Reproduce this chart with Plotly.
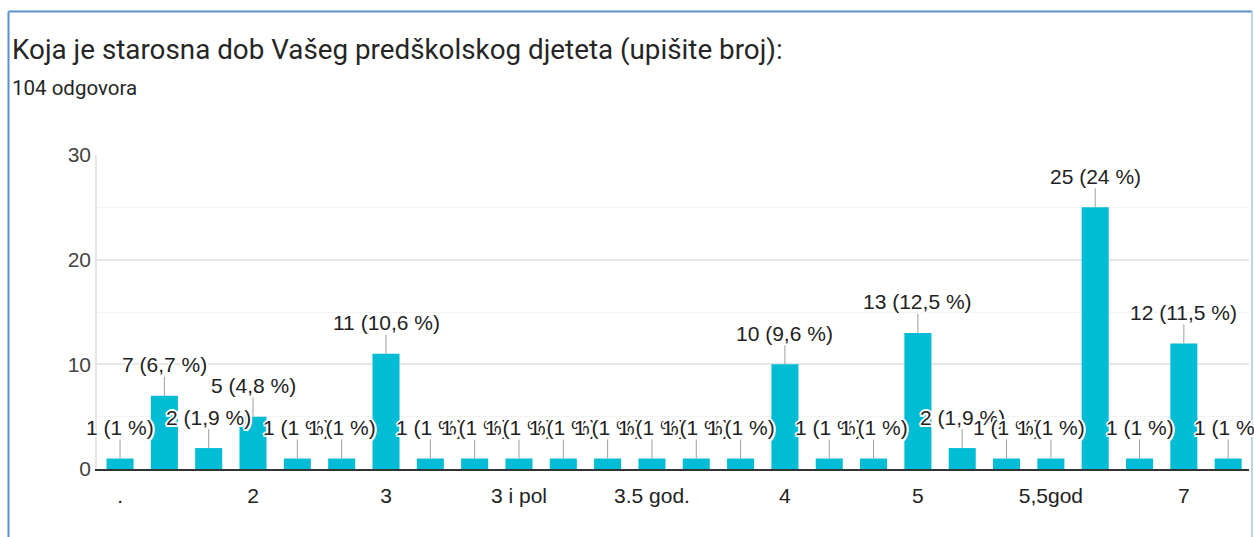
import plotly.graph_objects as go

# Responses to the question, one entry per distinct written answer
categories = [
    ".", "1", "1,5", "2", "2,5", "2.5", "3", "3 godine", "3 i 10 mjeseci",
    "3 i pol", "3,5", "3.5", "3.5 god.", "3.5 godina", "3g", "4", "4 godine",
    "4,5", "5", "5 godina", "5,5", "5,5god", "6", "6,5", "7", "7 godina",
]
counts = [1, 7, 2, 5, 1, 1, 11, 1, 1, 1, 1, 1, 1, 1, 1, 10, 1, 1, 13, 2, 1, 1, 25, 1, 12, 1]
y_ticks = [0, 10, 20, 30]

title_text = "Koja je starosna dob Vašeg predškolskog djeteta (upišite broj):"
subtitle_text = "104 odgovora"

total = sum(counts)


def value_label(n):
    pct = round(n / total * 100, 1)
    txt = f"{pct:.1f}".replace(".", ",")
    if txt.endswith(",0"):
        txt = txt[:-2]
    return f"{n} ({txt} %)"


W, H = 1254, 537
L, R, T, B = 97, 5, 155, 68
PW, PH = W - L - R, H - T - B


def px_x(x):
    return (x - L) / PW


def px_y(y):
    return (H - B - y) / PH


BAR = "#00BCD4"
halo = ("white 2px 0px 0px, white -2px 0px 0px, white 0px 2px 0px, white 0px -2px 0px, "
        "white 1.5px 1.5px 0px, white -1.5px 1.5px 0px, white 1.5px -1.5px 0px, white -1.5px -1.5px 0px")

fig = go.Figure(
    go.Bar(
        x=categories,
        y=counts,
        marker=dict(color=BAR, line=dict(width=0)),
        hoverinfo="skip",
    )
)

annotations = []
# category axis positions are addressed by index so numeric-looking names stay unambiguous
for i, n in enumerate(counts):
    annotations.append(dict(
        x=i, y=n, xref="x", yref="y",
        text=value_label(n),
        showarrow=True, arrowhead=0, arrowwidth=1, arrowcolor="#9e9e9e",
        ax=0, ay=-31, borderpad=0,
        font=dict(family="Liberation Sans, Arial", size=21, color="#222222", shadow=halo),
    ))

annotations.append(dict(
    xref="paper", yref="paper", x=px_x(10), y=px_y(49),
    xanchor="left", yanchor="middle", showarrow=False,
    text=title_text,
    font=dict(family="Roboto", size=27.8, color="#262626"),
))
annotations.append(dict(
    xref="paper", yref="paper", x=px_x(10), y=px_y(88),
    xanchor="left", yanchor="middle", showarrow=False,
    text=subtitle_text,
    font=dict(family="Roboto", size=20.5, color="#262626"),
))

frame = "#5B8FD0"
shapes = [
    dict(type="line", xref="paper", yref="paper", x0=px_x(8.5), x1=px_x(8.5),
         y0=px_y(11.5), y1=px_y(560), line=dict(color=frame, width=2)),
    dict(type="line", xref="paper", yref="paper", x0=px_x(8.5), x1=px_x(1252),
         y0=px_y(11.5), y1=px_y(11.5), line=dict(color=frame, width=2)),
    dict(type="line", xref="paper", yref="paper", x0=px_x(1252), x1=px_x(1252),
         y0=px_y(11.5), y1=px_y(560), line=dict(color="#A9C4E6", width=1.5)),
]

fig.update_layout(
    width=W, height=H,
    margin=dict(l=L, r=R, t=T, b=B, autoexpand=False),
    paper_bgcolor="white", plot_bgcolor="white",
    showlegend=False,
    bargap=0.39,
    annotations=annotations,
    shapes=shapes,
    font=dict(family="Liberation Sans, Arial", color="#444444"),
)

fig.update_xaxes(
    type="category",
    range=[-0.52, 25.47],
    tickmode="array",
    tickvals=categories[::3],
    ticktext=categories[::3],
    tickfont=dict(size=21, color="#222222"),
    ticks="", showgrid=False,
    showline=True, linecolor="#333333", linewidth=1.5,
    ticklabelstandoff=7,
    zeroline=False,
)

fig.update_yaxes(
    range=[0, 30],
    tickmode="array", tickvals=y_ticks, ticktext=[str(v) for v in y_ticks],
    tickfont=dict(size=21, color="#444444"),
    showgrid=True, gridcolor="#E6E6E6", gridwidth=1.5,
    minor=dict(dtick=5, showgrid=True, gridcolor="#F3F3F3", gridwidth=1),
    zeroline=False,
    showline=True, linecolor="#E6E6E6", linewidth=1.5,
    ticks="", ticklabelstandoff=0,
)

fig.write_html("out.html")
